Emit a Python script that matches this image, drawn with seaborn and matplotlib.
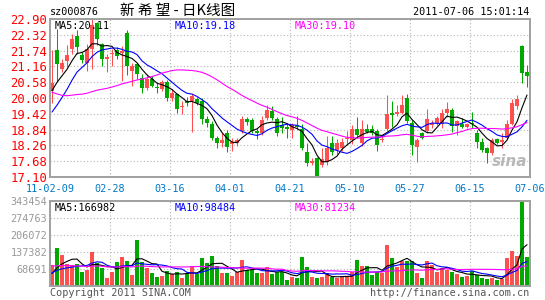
import numpy as np
import pandas as pd
import matplotlib
matplotlib.use("Agg")
import matplotlib.pyplot as plt
import seaborn as sns

# ---------------- data ----------------
stock_code = "sz000876"
title_text = "新 希 望 - 日K线图"
time_stamp = "2011-07-06 15:01:14"
date_labels = ["11-02-09", "02-28", "03-16", "04-01", "04-21",
               "05-10", "05-27", "06-15", "07-06"]

# closes / volumes of the 29 sessions before the window (estimated from MA lines)
prev_close = [23.2, 22.8, 22.1, 21.5, 21.2, 21.0, 20.8, 20.9, 20.6, 20.4,
              20.5, 20.2, 20.0, 19.8, 19.9, 19.6, 19.4, 19.5, 19.2, 19.0,
              18.7, 18.5, 18.6, 18.8, 18.9, 19.7, 20.1, 20.4, 20.6]
prev_volume = [120000, 105000, 98000, 110000, 92000, 88000, 101000, 95000, 86000, 90000,
               99000, 84000, 92000, 88000, 97000, 85000, 90000, 83000, 94000, 88000,
               62000, 55000, 58000, 52000, 58000, 38000, 45000, 40000, 43000]

open_ = [20.25, 21.78, 21.08, 21.34, 21.81, 22.28, 21.59, 21.27, 21.81, 22.75,
         21.99, 21.45, 21.60, 21.77, 21.66, 22.40, 21.00, 21.23, 20.73, 20.36,
         20.69, 20.40, 20.33, 20.58, 20.00, 20.15, 19.68, 19.90, 19.90, 19.97,
         19.90, 19.24, 19.06, 18.55, 18.33, 18.70, 18.30, 18.36, 18.80, 19.24,
         19.20, 18.80, 18.73, 19.28, 19.53, 19.24, 19.00, 18.95, 18.84, 19.00,
         18.88, 18.00, 17.60, 17.80, 17.55, 17.64, 18.33, 18.10, 18.15, 18.48,
         18.44, 18.88, 18.33, 18.85, 18.88, 18.80, 18.46, 18.88, 19.45, 19.42,
         19.46, 20.00, 19.10, 18.19, 18.70, 18.80, 19.00, 19.10, 19.06, 19.46,
         19.57, 18.99, 19.06, 18.95, 19.10, 18.70, 18.40, 18.15, 17.97, 18.50,
         18.37, 18.55, 19.06, 19.71, 21.92, 20.94]
high = [21.78, 22.54, 21.45, 21.95, 22.35, 22.50, 21.70, 22.00, 22.90, 22.80,
        22.03, 21.63, 21.81, 21.88, 21.92, 22.50, 21.30, 21.27, 20.87, 20.87,
        20.80, 20.55, 20.65, 20.65, 20.33, 20.20, 19.90, 20.05, 20.15, 20.05,
        20.00, 19.35, 19.15, 18.62, 18.70, 18.84, 18.55, 18.55, 19.35, 19.30,
        19.28, 18.90, 19.35, 19.75, 19.70, 19.30, 19.30, 19.10, 19.10, 19.35,
        19.05, 18.35, 17.80, 17.85, 18.15, 18.60, 18.60, 18.50, 18.55, 18.80,
        19.00, 19.30, 19.18, 19.06, 19.00, 18.88, 18.62, 20.10, 19.90, 19.75,
        20.10, 20.15, 19.20, 18.55, 18.75, 19.60, 19.20, 19.35, 19.60, 19.85,
        19.65, 19.20, 19.28, 19.10, 19.50, 18.84, 18.55, 18.20, 18.55, 18.55,
        18.70, 19.20, 19.95, 20.10, 21.95, 21.20]
low = [19.82, 20.62, 20.95, 21.15, 21.60, 21.60, 21.30, 20.98, 21.07, 21.95,
       21.16, 20.95, 21.16, 21.45, 20.62, 20.85, 20.45, 20.70, 20.18, 20.30,
       20.40, 20.18, 20.25, 19.90, 19.90, 19.46, 19.42, 19.70, 18.75, 19.75,
       19.06, 18.95, 18.45, 18.15, 18.20, 18.00, 18.05, 18.25, 18.73, 19.00,
       18.70, 18.50, 18.65, 19.20, 19.20, 18.62, 18.70, 18.55, 18.55, 18.85,
       18.10, 17.50, 17.55, 17.10, 17.45, 17.55, 17.90, 17.95, 18.05, 18.30,
       18.30, 18.55, 18.25, 18.70, 18.65, 18.05, 18.40, 18.80, 18.95, 19.35,
       19.40, 19.10, 17.90, 17.65, 18.48, 18.70, 18.90, 19.00, 18.90, 19.30,
       18.75, 18.65, 18.90, 18.90, 18.90, 18.15, 18.00, 17.60, 17.90, 18.30,
       18.15, 18.48, 19.00, 19.60, 20.55, 20.40]
close = [20.54, 21.23, 21.30, 21.59, 22.17, 21.88, 21.41, 21.81, 22.68, 22.17,
         21.45, 21.52, 21.66, 21.56, 21.72, 21.16, 21.16, 20.87, 20.36, 20.69,
         20.44, 20.36, 20.58, 20.00, 20.18, 19.60, 19.72, 19.80, 20.07, 19.82,
         19.24, 19.10, 18.55, 18.33, 18.44, 18.19, 18.40, 18.44, 19.24, 19.13,
         18.80, 18.72, 19.20, 19.57, 19.28, 18.70, 18.90, 18.85, 19.00, 18.95,
         18.15, 17.60, 17.70, 17.10, 17.75, 18.15, 18.00, 18.33, 18.37, 18.52,
         18.88, 18.63, 18.88, 18.75, 18.73, 18.26, 18.50, 19.42, 19.38, 19.50,
         19.75, 19.17, 18.26, 18.44, 18.55, 19.24, 19.10, 19.28, 19.46, 19.60,
         18.99, 19.17, 18.95, 19.06, 19.06, 18.40, 18.08, 17.97, 18.44, 18.33,
         18.45, 19.06, 19.82, 19.97, 20.90, 20.80]
volume = [86000, 152000, 126000, 90000, 86000, 90000, 55000, 63000, 136000, 91000,
          71000, 31000, 58000, 95000, 118000, 102000, 45000, 187000, 98000, 71000,
          51000, 37000, 41000, 62000, 49000, 58000, 32000, 52000, 75000, 48000,
          113000, 91000, 122000, 82000, 51000, 51000, 39000, 55000, 106000, 66000,
          66000, 51000, 51000, 78000, 48000, 55000, 58000, 24000, 37000, 31000,
          118000, 78000, 37000, 31000, 37000, 51000, 35000, 32000, 35000, 41000,
          55000, 106000, 82000, 82000, 45000, 55000, 53000, 166000, 114000, 78000,
          102000, 99000, 99000, 53000, 31000, 100000, 86000, 56000, 71000, 63000,
          56000, 47000, 35000, 40000, 59000, 44180, 34000, 30000, 33000, 23000,
          29930, 112000, 142000, 120000, 343454, 117456]

# ---------------- styling ----------------
RED = "#ff5050"
GREEN = "#00a800"
GRID = "#b4b4b4"
SPINE = "#a0a0a0"

sns.set_theme(style="white")
plt.rcParams["font.family"] = ["DejaVu Sans Mono", "DejaVu Sans"]

o = np.array(open_); h = np.array(high); l = np.array(low); c = np.array(close)
v = np.array(volume, dtype=float)
n = len(c)
idx = np.arange(n)

all_c = pd.Series(prev_close + close)
all_v = pd.Series(prev_volume + volume, dtype=float)
k = len(prev_close)
ma = {w: all_c.rolling(w).mean().to_numpy()[k:] for w in (5, 10, 30)}
vma = {w: all_v.rolling(w).mean().to_numpy()[k:] for w in (5, 10, 30)}
df = pd.DataFrame({"idx": idx, "ma5": ma[5], "ma10": ma[10], "ma30": ma[30],
                   "v5": vma[5], "v10": vma[10], "v30": vma[30]})

up = c >= o
cols = np.where(up, RED, GREEN)

W, H = 545, 300
fig = plt.figure(figsize=(W / 100, H / 100), dpi=100)
fig.patch.set_facecolor("white")
ax = fig.add_axes([50 / W, (H - 177) / H, 480 / W, 158 / H])
axv = fig.add_axes([50 / W, (H - 286) / H, 480 / W, 85 / H])

xlo, xhi = -0.4, n - 0.4
xgrid = np.linspace(xlo, xhi, len(date_labels))

# candles
ax.vlines(idx, l, h, colors=cols, linewidth=0.75, zorder=2)
body_lo = np.minimum(o, c)
body_h = np.maximum(np.abs(c - o), 0.025)
ax.bar(idx, body_h, bottom=body_lo, width=0.8, color=cols, linewidth=0, zorder=2.5)

for key, colr in (("ma5", "black"), ("ma10", "#0000ff"), ("ma30", "#ff00ff")):
    sns.lineplot(data=df, x="idx", y=key, color=colr, linewidth=0.8, ax=ax, zorder=3)

plo, phi = l.min(), h.max()
ax.set_xlim(xlo, xhi)
ax.set_ylim(plo, phi)
pt = np.linspace(plo, phi, 11)
ax.set_yticks(pt)
ax.set_yticklabels([f"{t:.2f}" for t in pt], color="#ff0000", fontsize=8.8)
ax.set_xticks(xgrid)
ax.set_xticklabels(date_labels, color="#0078c8", fontsize=7.3)
ax.tick_params(axis="both", length=0)
ax.tick_params(axis="y", pad=2)
ax.tick_params(axis="x", pad=5)

# volume
axv.bar(idx, v, width=0.8, color=cols, linewidth=0, zorder=2)
for key, colr in (("v5", "black"), ("v10", "#0000ff"), ("v30", "#ff00ff")):
    sns.lineplot(data=df, x="idx", y=key, color=colr, linewidth=0.8, ax=axv, zorder=3)
vmax = v.max()
axv.set_xlim(xlo, xhi)
axv.set_ylim(0, vmax)
vt = vmax * np.arange(1, 6) / 5
axv.set_yticks(vt)
axv.set_yticklabels([f"{t:.0f}" for t in vt], color="#999999", fontsize=7.3)
axv.set_xticks(xgrid)
axv.set_xticklabels([])
axv.tick_params(axis="both", length=0)
axv.tick_params(axis="y", pad=2)

for a in (ax, axv):
    a.set_xlabel("")
    a.set_ylabel("")
    a.set_facecolor("white")
    a.set_axisbelow(True)
    a.grid(True, linestyle=(0, (1, 2)), color=GRID, linewidth=0.8)
    for s in a.spines.values():
        s.set_color(SPINE)
        s.set_linewidth(1.4)
        s.set_visible(True)

# legends inside the panels
ax.text(5 / 480, 1 - 2 / 158, f"MA5:{ma[5][-1]:.2f}", transform=ax.transAxes,
        ha="left", va="top", color="black", fontsize=7.3, zorder=5)
ax.text(125 / 480, 1 - 2 / 158, f"MA10:{ma[10][-1]:.2f}", transform=ax.transAxes,
        ha="left", va="top", color="#0000ff", fontsize=7.3, zorder=5)
ax.text(245 / 480, 1 - 2 / 158, f"MA30:{ma[30][-1]:.2f}", transform=ax.transAxes,
        ha="left", va="top", color="#ff00ff", fontsize=7.3, zorder=5)
axv.text(5 / 480, 1 - 2 / 85, f"MA5:{vma[5][-1]:.0f}", transform=axv.transAxes,
         ha="left", va="top", color="black", fontsize=7.3, zorder=5)
axv.text(125 / 480, 1 - 2 / 85, f"MA10:{vma[10][-1]:.0f}", transform=axv.transAxes,
         ha="left", va="top", color="#0000ff", fontsize=7.3, zorder=5)
axv.text(245 / 480, 1 - 2 / 85, f"MA30:{vma[30][-1]:.0f}", transform=axv.transAxes,
         ha="left", va="top", color="#ff00ff", fontsize=7.3, zorder=5)

# watermark
ax.text(0.995, 0.05, "sina", transform=ax.transAxes, ha="right", va="bottom",
        color="#b8b8b8", fontsize=11, fontstyle="italic", fontweight="bold",
        family=["DejaVu Sans"], zorder=1.5)

# header / footer
fig.text(50 / W, 1 - 12 / H, stock_code, ha="left", va="center", color="black", fontsize=7.3)
fig.text(120 / W, 1 - 11 / H, title_text, ha="left", va="center", color="black",
         fontsize=10.5, family=["Noto Sans CJK SC", "DejaVu Sans"])
fig.text(529 / W, 1 - 12 / H, time_stamp, ha="right", va="center", color="black", fontsize=7.3)
fig.text(50 / W, 1 - 293 / H, "Copyright 2011 SINA.COM", ha="left", va="center",
         color="#555555", fontsize=7.3)
fig.text(529 / W, 1 - 293 / H, "http://finance.sina.com.cn", ha="right", va="center",
         color="#555555", fontsize=7.3)

fig.savefig("out.png", dpi=100, facecolor="white")
